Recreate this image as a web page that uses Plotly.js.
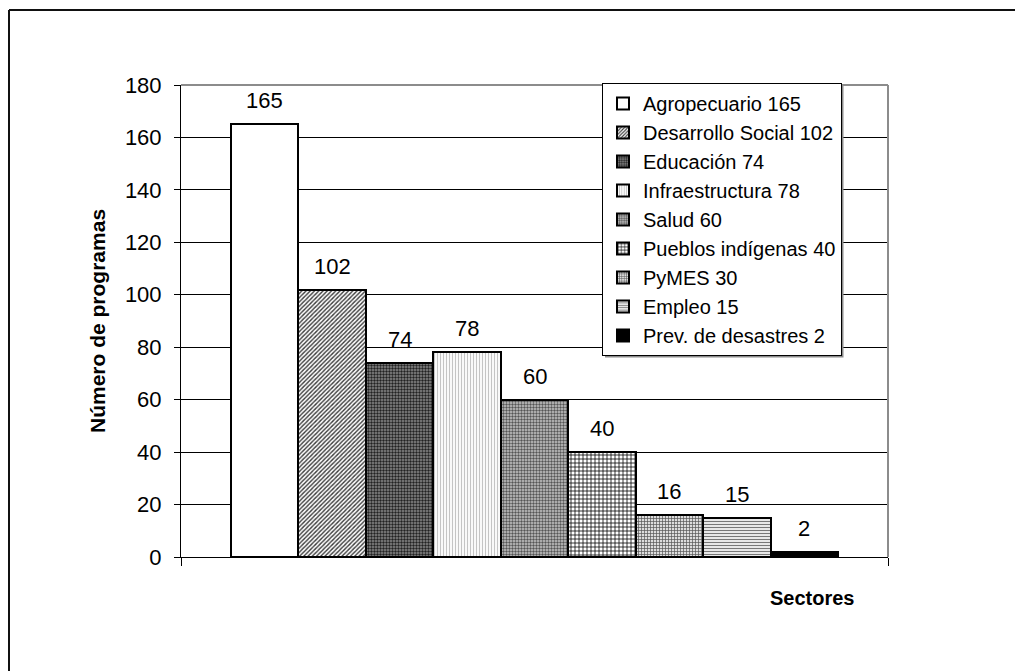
<!DOCTYPE html>
<html>
<head>
<meta charset="utf-8">
<script src="https://cdn.plot.ly/plotly-3.0.1.min.js"></script>
<style>
  html, body { margin: 0; padding: 0; background: #fff; }
  #chart { width: 1015px; height: 671px; }
</style>
</head>
<body>
<div id="chart"></div>
<script>
// ---- data ----
const sectorNames = ["Agropecuario", "Desarrollo Social", "Educación", "Infraestructura",
  "Salud", "Pueblos indígenas", "PyMES", "Empleo", "Prev. de desastres"];
const legendCounts = [165, 102, 74, 78, 60, 40, 30, 15, 2];
const barValues = [165, 102, 74, 78, 60, 40, 16, 15, 2];
const yTicks = [0, 20, 40, 60, 80, 100, 120, 140, 160, 180];

// ---- styles (not data) ----
const fills = [
  {color: "#ffffff", pattern: {shape: ""}},
  {color: "#ffffff", pattern: {shape: "/", fgcolor: "#3a3a3a", bgcolor: "#fff", size: 3, solidity: 0.45}},
  {color: "#666666", pattern: {shape: ".", fgcolor: "#222", bgcolor: "#8a8a8a", size: 3, solidity: 0.5}},
  {color: "#ffffff", pattern: {shape: "|", fgcolor: "#c4c4c4", bgcolor: "#fff", size: 3, solidity: 0.4}},
  {color: "#ffffff", pattern: {shape: ".", fgcolor: "#555", bgcolor: "#c8c8c8", size: 3, solidity: 0.5}},
  {color: "#ffffff", pattern: {shape: "+", fgcolor: "#000", bgcolor: "#fff", size: 4, solidity: 0.35}},
  {color: "#ffffff", pattern: {shape: "+", fgcolor: "#555", bgcolor: "#ddd", size: 3, solidity: 0.4}},
  {color: "#ffffff", pattern: {shape: "-", fgcolor: "#777", bgcolor: "#fff", size: 3, solidity: 0.45}},
  {color: "#000000", pattern: {shape: ""}}
];

const FONT = "Liberation Sans, Arial, Helvetica, sans-serif";

const traces = sectorNames.map((name, i) => ({
  type: "bar",
  x: [i],
  y: [barValues[i]],
  name: name + " " + legendCounts[i],
  marker: {
    color: fills[i].color,
    pattern: fills[i].pattern,
    line: {color: "#000", width: 2}
  },
  hoverinfo: "none"
}));

// plot area in pixels: x 181..888, y 85..557
const L = 181, R = 888, T = 85, B = 557;
const W = 1015, H = 671;
const pw = R - L, ph = B - T;
const px = v => (v - L) / pw;
const py = v => (B - v) / ph;

const xRange = [-1.24, 9.24];

const labelAnnotations = barValues.map((v, i) => ({
  x: i, y: v, xref: "x", yref: "y",
  text: String(v), showarrow: false,
  xanchor: "center", yanchor: "bottom", yshift: 9,
  font: {family: FONT, size: 22, color: "#000"}
}));

const layout = {
  width: W, height: H,
  margin: {l: L, r: W - R, t: T, b: H - B, pad: 0},
  paper_bgcolor: "#fff",
  plot_bgcolor: "#fff",
  font: {family: FONT, color: "#000"},
  barmode: "stack",
  bargap: 0,
  showlegend: true,
  legend: {
    x: px(602), y: py(83), xanchor: "left", yanchor: "top",
    bgcolor: "#fff", bordercolor: "#000", borderwidth: 1,
    font: {family: FONT, size: 20, color: "#000"},
    traceorder: "normal"
  },
  xaxis: {
    type: "linear",
    range: xRange,
    tickvals: xRange,
    showticklabels: false,
    ticks: "outside", ticklen: 8, tickcolor: "#000", tickwidth: 1,
    showline: true, linecolor: "#000", linewidth: 1,
    showgrid: false, zeroline: false, fixedrange: true
  },
  yaxis: {
    range: [0, 180],
    tickvals: yTicks,
    ticktext: yTicks.map(String),
    ticks: "outside", ticklen: 6, tickcolor: "#000", tickwidth: 1,
    ticklabelstandoff: 8,
    tickfont: {family: FONT, size: 22, color: "#000"},
    showline: true, linecolor: "#000", linewidth: 1,
    showgrid: true, gridcolor: "#000", gridwidth: 1,
    zeroline: false, fixedrange: true
  },
  annotations: labelAnnotations.concat([
    {text: "<b>Número de programas</b>", textangle: -90, xref: "paper", yref: "paper",
     x: px(97), y: 0.5, xanchor: "center", yanchor: "middle", showarrow: false,
     font: {family: FONT, size: 21, color: "#000"}},
    {text: "<b>Sectores</b>", xref: "paper", yref: "paper",
     x: px(812), y: py(598), xanchor: "center", yanchor: "middle", showarrow: false,
     font: {family: FONT, size: 20, color: "#000"}}
  ]),
  shapes: [
    {type: "line", xref: "paper", yref: "paper", x0: 0, x1: 1, y0: 1, y1: 1,
     line: {color: "#8c8c8c", width: 2}, layer: "above"},
    {type: "line", xref: "paper", yref: "paper", x0: 1, x1: 1, y0: 0, y1: 1,
     line: {color: "#8c8c8c", width: 2}, layer: "above"},
    {type: "line", xref: "paper", yref: "paper", x0: px(9), x1: px(1030), y0: py(10), y1: py(10),
     line: {color: "#111", width: 2}},
    {type: "line", xref: "paper", yref: "paper", x0: px(9), x1: px(9), y0: py(10), y1: py(690),
     line: {color: "#111", width: 2}}
  ]
};

const gd = document.getElementById("chart");
Plotly.newPlot(gd, traces, layout, {staticPlot: true, displayModeBar: false}).then(() => {
  // grey drop shadow under the legend box, sized from the rendered legend
  const leg = gd.querySelector("g.legend");
  const bg = leg && leg.querySelector("rect.bg");
  if (!bg) return;
  const m = /translate\(\s*([-\d.]+)[ ,]+([-\d.]+)/.exec(leg.getAttribute("transform") || "");
  if (!m) return;
  const lx = parseFloat(m[1]), ly = parseFloat(m[2]);
  const w = parseFloat(bg.getAttribute("width")), h = parseFloat(bg.getAttribute("height"));
  const shadow = {
    type: "rect", xref: "paper", yref: "paper",
    x0: px(lx + 3), x1: px(lx + w + 2.5), y0: py(ly + h + 2.5), y1: py(ly + 3),
    fillcolor: "#8c8c8c", line: {width: 0}, layer: "above"
  };
  return Plotly.relayout(gd, {shapes: gd.layout.shapes.concat([shadow])});
});
</script>
</body>
</html>
